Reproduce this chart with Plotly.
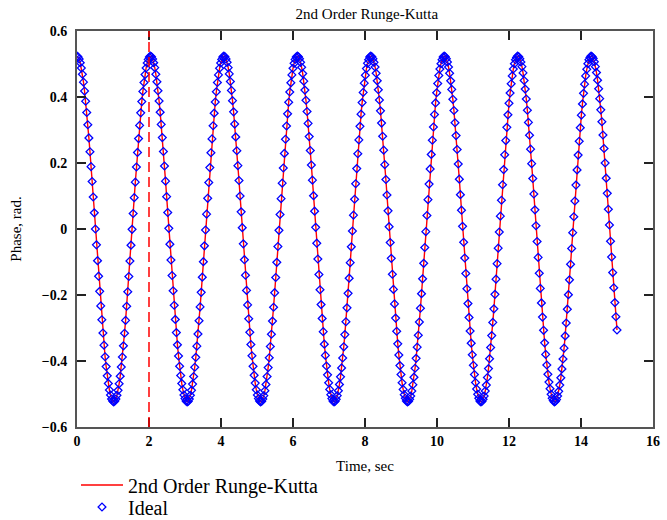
import plotly.graph_objects as go

# Pendulum phase (rad) sampled every time_step seconds from t = 0 to 15 s
time_start = 0.0
time_step = 0.03

phase_rk2 = [
    0.524, 0.521, 0.515, 0.504, 0.488, 0.469, 0.445, 0.418, 0.387, 0.353, 0.316, 0.276, 0.234, 0.189, 0.144, 0.097, 0.049, 0.000,
    -0.048, -0.096, -0.143, -0.189, -0.233, -0.275, -0.315, -0.352, -0.387, -0.417, -0.445, -0.468, -0.488, -0.503, -0.515, -0.521,
    -0.524, -0.521, -0.515, -0.504, -0.489, -0.469, -0.446, -0.418, -0.388, -0.354, -0.316, -0.277, -0.234, -0.190, -0.144, -0.097, -0.049, -0.001,
    0.047, 0.095, 0.142, 0.188, 0.232, 0.274, 0.314, 0.352, 0.386, 0.417, 0.444, 0.468, 0.488, 0.503, 0.514, 0.521,
    0.524, 0.522, 0.515, 0.504, 0.489, 0.469, 0.446, 0.419, 0.388, 0.354, 0.317, 0.277, 0.235, 0.191, 0.145, 0.098, 0.050, 0.002,
    -0.046, -0.094, -0.141, -0.187, -0.231, -0.274, -0.314, -0.351, -0.385, -0.416, -0.444, -0.468, -0.487, -0.503, -0.514, -0.521,
    -0.524, -0.522, -0.515, -0.504, -0.489, -0.470, -0.447, -0.419, -0.389, -0.355, -0.318, -0.278, -0.236, -0.192, -0.146, -0.099, -0.051, -0.003,
    0.045, 0.093, 0.141, 0.186, 0.231, 0.273, 0.313, 0.351, 0.385, 0.416, 0.444, 0.467, 0.487, 0.503, 0.514, 0.521,
    0.524, 0.522, 0.515, 0.505, 0.489, 0.470, 0.447, 0.420, 0.389, 0.355, 0.318, 0.279, 0.237, 0.192, 0.147, 0.100, 0.052, 0.004,
    -0.045, -0.093, -0.140, -0.186, -0.230, -0.272, -0.313, -0.350, -0.384, -0.416, -0.443, -0.467, -0.487, -0.503, -0.514, -0.521,
    -0.524, -0.522, -0.515, -0.505, -0.490, -0.471, -0.447, -0.420, -0.390, -0.356, -0.319, -0.279, -0.237, -0.193, -0.147, -0.101, -0.053, -0.004,
    0.044, 0.092, 0.139, 0.185, 0.229, 0.272, 0.312, 0.349, 0.384, 0.415, 0.443, 0.467, 0.487, 0.502, 0.514, 0.521,
    0.524, 0.522, 0.516, 0.505, 0.490, 0.471, 0.448, 0.421, 0.390, 0.356, 0.320, 0.280, 0.238, 0.194, 0.148, 0.101, 0.054, 0.005,
    -0.043, -0.091, -0.138, -0.184, -0.229, -0.271, -0.311, -0.349, -0.383, -0.415, -0.442, -0.466, -0.486, -0.502, -0.514, -0.521,
    -0.524, -0.522, -0.516, -0.505, -0.490, -0.471, -0.448, -0.421, -0.391, -0.357, -0.320, -0.281, -0.239, -0.195, -0.149, -0.102, -0.054, -0.006,
    0.042, 0.090, 0.137, 0.183, 0.228, 0.270, 0.311, 0.348, 0.383, 0.414, 0.442, 0.466, 0.486, 0.502, 0.513, 0.521,
    0.524, 0.522, 0.516, 0.505, 0.491, 0.472, 0.449, 0.422, 0.391, 0.358, 0.321, 0.281, 0.239, 0.195, 0.150, 0.103, 0.055, 0.007,
    -0.041, -0.089, -0.137, -0.183, -0.227, -0.270, -0.310, -0.348, -0.382, -0.414, -0.441, -0.466, -0.486, -0.502, -0.513, -0.521,
    -0.524, -0.522, -0.516, -0.506, -0.491, -0.472, -0.449, -0.422, -0.392, -0.358, -0.322, -0.282, -0.240, -0.196, -0.151, -0.104, -0.056, -0.008,
    0.041, 0.089, 0.136, 0.182, 0.226, 0.269, 0.309, 0.347, 0.382, 0.413, 0.441, 0.465, 0.485, 0.501, 0.513, 0.521,
    0.524, 0.522, 0.516, 0.506, 0.491, 0.472, 0.449, 0.423, 0.393, 0.359, 0.322, 0.283, 0.241, 0.197, 0.151, 0.104, 0.057, 0.008,
    -0.040, -0.088, -0.135, -0.181, -0.226, -0.268, -0.309, -0.346, -0.381, -0.413, -0.441, -0.465, -0.485, -0.501, -0.513, -0.521,
    -0.524, -0.522, -0.516, -0.506, -0.491, -0.473, -0.450, -0.423, -0.393, -0.359, -0.323, -0.283, -0.242, -0.198, -0.152, -0.105, -0.058, -0.009,
    0.039, 0.087, 0.134, 0.180, 0.225, 0.268, 0.308, 0.346, 0.381, 0.412, 0.440, 0.464, 0.485, 0.501, 0.513, 0.520,
    0.524, 0.522, 0.516, 0.506, 0.492, 0.473, 0.450, 0.424, 0.394, 0.360, 0.323, 0.284, 0.242, 0.198, 0.153, 0.106, 0.058, 0.010,
    -0.038, -0.086, -0.134, -0.180, -0.224, -0.267, -0.307, -0.345, -0.380, -0.412, -0.440, -0.464, -0.484, -0.501, -0.513, -0.520,
    -0.524, -0.522, -0.517, -0.506, -0.492, -0.473, -0.451, -0.424, -0.394, -0.361, -0.324, -0.285, -0.243, -0.199, -0.154, -0.107, -0.059, -0.011,
    0.037, 0.085, 0.133, 0.179, 0.224, 0.266, 0.307, 0.345, 0.379, 0.411, 0.439, 0.464, 0.484, 0.501, 0.513, 0.520,
    0.524, 0.522, 0.517, 0.507, 0.492, 0.474, 0.451, 0.425, 0.395, 0.361, 0.325, 0.285, 0.244, 0.200, 0.154, 0.108, 0.060, 0.012,
    -0.037, -0.085, -0.132, -0.178, -0.223, -0.266, -0.306,
]
# The ideal (exact) solution coincides with the RK2 result at plotting resolution
phase_ideal = phase_rk2

marker_time = 2.0  # vertical x-marker

series_names = ["2nd Order Runge-Kutta", "Ideal"]
x_ticks = [0, 2, 4, 6, 8, 10, 12, 14, 16]
y_ticks = [-0.6, -0.4, -0.2, 0, 0.2, 0.4, 0.6]

SERIF = "Liberation Serif"

# Plot-area geometry in pixels (used to place the legends below the frame)
FIG_W, FIG_H = 667, 520
M_L, M_R, M_T, M_B = 77, 14, 31, 93
PLOT_W = FIG_W - M_L - M_R
PLOT_H = FIG_H - M_T - M_B


def paper_y(px):
    return (FIG_H - M_B - px) / PLOT_H


fig = go.Figure()
fig.add_trace(go.Scatter(
    x0=time_start, dx=time_step, y=phase_rk2,
    mode="lines", name=series_names[0], legend="legend",
    line=dict(color="#ff0000", width=1.4),
))
fig.add_trace(go.Scatter(
    x0=time_start, dx=time_step, y=phase_ideal,
    mode="markers", name=series_names[1], legend="legend2",
    marker=dict(symbol="diamond-open", size=6, color="#0000ff",
                line=dict(color="#0000ff", width=1.3)),
))

fig.add_shape(
    type="line", xref="x", yref="paper",
    x0=marker_time, x1=marker_time, y0=0, y1=1,
    line=dict(color="#ff0000", width=1.5, dash="10px,5px"),
    layer="above",
)

axis_common = dict(
    showline=True, linecolor="#555555", linewidth=2, mirror="ticks",
    ticks="inside", ticklen=9, tickwidth=1.5, tickcolor="#222222",
    showgrid=False, zeroline=False,
    tickfont=dict(family=SERIF, size=14, color="#000000", weight="bold"),
)

legend_common = dict(
    x=-1 / PLOT_W, xanchor="left", yanchor="middle",
    font=dict(family=SERIF, size=20, color="#000000"),
    bgcolor="rgba(0,0,0,0)", itemwidth=42,
)

fig.update_layout(
    width=FIG_W, height=FIG_H, autosize=False,
    margin=dict(l=M_L, r=M_R, t=M_T, b=M_B, autoexpand=False),
    paper_bgcolor="white", plot_bgcolor="white",
    title=dict(text="2nd Order Runge-Kutta", x=0.55, xanchor="center",
               y=1 - 14 / FIG_H, yanchor="middle",
               font=dict(family=SERIF, size=15, color="#000000")),
    xaxis=dict(range=[0, 16], tickvals=x_ticks,
               title=dict(text="Time, sec", standoff=13,
                          font=dict(family=SERIF, size=15, color="#000000")),
               **axis_common),
    yaxis=dict(range=[-0.6, 0.6], tickvals=y_ticks, ticklabelstandoff=5,
               title=dict(text="Phase, rad.", standoff=16,
                          font=dict(family=SERIF, size=15, color="#000000")),
               **axis_common),
    showlegend=True,
    legend=dict(y=paper_y(485), **legend_common),
    legend2=dict(y=paper_y(507), **legend_common),
)

fig.write_html("out.html")
